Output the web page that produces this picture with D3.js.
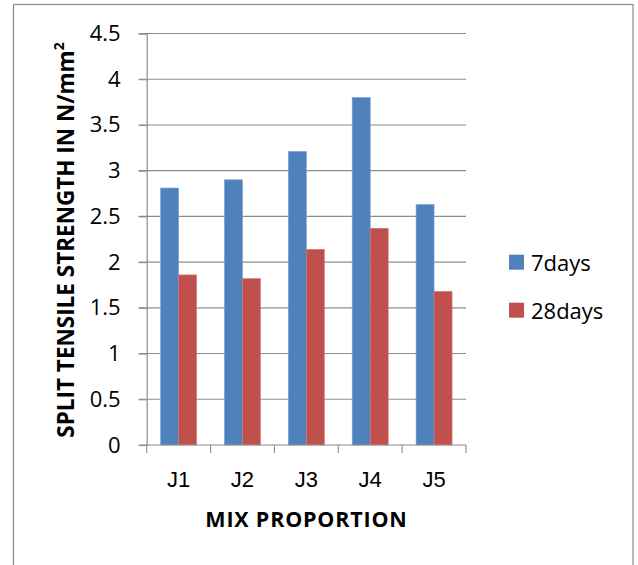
<!DOCTYPE html>
<html>
<head>
<meta charset="utf-8">
<script src="https://cdn.jsdelivr.net/npm/d3@7"></script>
<style>
  html, body { margin: 0; padding: 0; background: #fff; }
  svg { display: block; font-family: "Open Sans", "DejaVu Sans", sans-serif; }
</style>
</head>
<body>
<svg id="chart" width="638" height="565"></svg>
<script>
const categories = ["J1", "J2", "J3", "J4", "J5"];
const seriesNames = ["7days", "28days"];
const days7 = [2.81, 2.90, 3.21, 3.80, 2.63];
const days28 = [1.86, 1.82, 2.14, 2.37, 1.68];
const yTicks = [0, 0.5, 1, 1.5, 2, 2.5, 3, 3.5, 4, 4.5];
const colors = ["#4F81BD", "#C0504D"];
const strokes = ["#7A9FCF", "#D27C7A"];

const svg = d3.select("#chart");
svg.append("rect").attr("width", 638).attr("height", 565).attr("fill", "#fff");
// outer chart border
svg.append("rect").attr("x", 13.5).attr("y", 4.5).attr("width", 619.5).attr("height", 620)
  .attr("fill", "none").attr("stroke", "#8a8a8a").attr("stroke-width", 1.2);

const plot = { left: 146.7, right: 466, top: 33.5, bottom: 445 };

const x = d3.scaleBand().domain(categories).range([plot.left, plot.right]).padding(0);
const y = d3.scaleLinear().domain([0, 4.5]).range([plot.bottom, plot.top]);
const xs = d3.scaleBand().domain(seriesNames).range([-18, 18]).padding(0);

// gridlines
svg.append("g").selectAll("line").data(yTicks.filter(d => d > 0)).join("line")
  .attr("x1", plot.left - 8).attr("x2", plot.right)
  .attr("y1", d => y(d)).attr("y2", d => y(d))
  .attr("stroke", "#8c8c8c").attr("stroke-width", 1.1);

// y axis
const yAxis = d3.axisLeft(y).tickValues(yTicks).tickSize(8).tickPadding(18)
  .tickFormat(d => String(d));
const gy = svg.append("g").attr("transform", `translate(${plot.left},0)`).call(yAxis);
gy.select(".domain").attr("stroke", "#8c8c8c").attr("stroke-width", 1.2);
gy.selectAll(".tick line").attr("stroke", "#8c8c8c").attr("stroke-width", 1.1);
gy.selectAll(".tick text").attr("font-size", 22).attr("fill", "#000")
  .attr("font-family", "'Open Sans', sans-serif");

// bars
const data = categories.map((c, i) => ({ cat: c, vals: [days7[i], days28[i]] }));
const groups = svg.append("g").selectAll("g").data(data).join("g")
  .attr("transform", d => `translate(${x(d.cat) + x.bandwidth() / 2},0)`);
groups.selectAll("rect").data(d => d.vals.map((v, k) => ({ v, k }))).join("rect")
  .attr("x", d => xs(seriesNames[d.k]))
  .attr("width", xs.bandwidth())
  .attr("y", d => y(d.v))
  .attr("height", d => y(0) - y(d.v))
  .attr("fill", d => colors[d.k])
  .attr("stroke", d => strokes[d.k]).attr("stroke-width", 0.6);

// x axis
const xAxis = d3.axisBottom(x).tickSize(0).tickPadding(0).tickFormat(d => d);
const gx = svg.append("g").attr("transform", `translate(0,${plot.bottom})`).call(xAxis);
gx.select(".domain").remove();
gx.selectAll(".tick text").attr("font-size", 22).attr("fill", "#000")
  .attr("dy", null).attr("y", 42);
gx.append("line").attr("x1", plot.left - 8).attr("x2", plot.right)
  .attr("y1", 0).attr("y2", 0).attr("stroke", "#8c8c8c").attr("stroke-width", 1.2);
const boundaries = categories.map(c => x(c)).concat([plot.right]);
gx.selectAll("line.b").data(boundaries).join("line").attr("class", "b")
  .attr("x1", d => d).attr("x2", d => d).attr("y1", 0).attr("y2", 8)
  .attr("stroke", "#8c8c8c").attr("stroke-width", 1.1);

// axis titles
svg.append("text").attr("x", 306.5).attr("y", 527).attr("text-anchor", "middle")
  .attr("font-size", 21.5).attr("font-weight", "bold").attr("fill", "#000")
  .attr("letter-spacing", 0.8)
  .text("MIX PROPORTION");

const yt = svg.append("text")
  .attr("transform", "translate(74,240) rotate(-90)")
  .attr("text-anchor", "middle")
  .attr("font-size", 22.5).attr("font-weight", "bold").attr("fill", "#000");
yt.append("tspan").text("SPLIT TENSILE STRENGTH IN N/mm");
yt.append("tspan").attr("font-size", 14).attr("dy", -10).text("2");

// legend
const leg = svg.append("g").selectAll("g").data(seriesNames).join("g")
  .attr("transform", (d, i) => `translate(509,${254.7 + i * 48})`);
leg.append("rect").attr("width", 15).attr("height", 15).attr("fill", (d, i) => colors[i]);
leg.append("text").attr("x", 22).attr("y", 16).attr("font-size", 22).attr("fill", "#000")
  .text(d => d);
</script>
</body>
</html>
